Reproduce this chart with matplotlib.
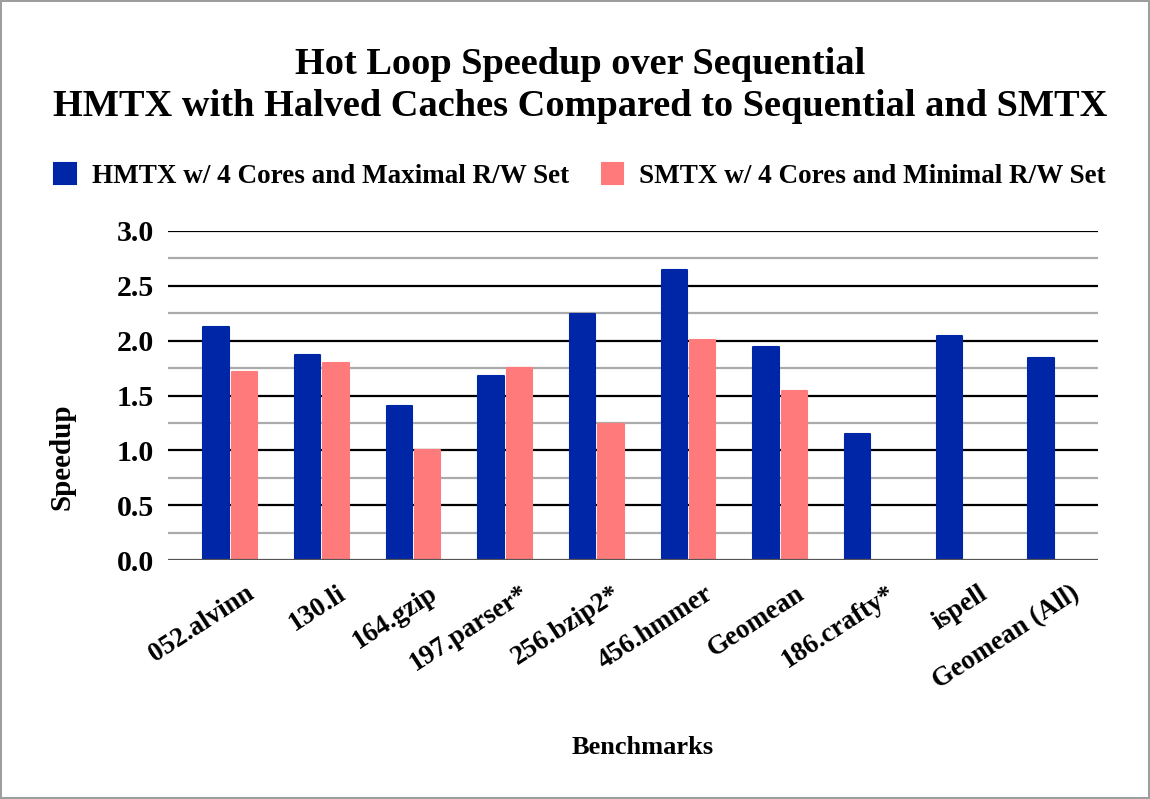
import numpy as np
import matplotlib
matplotlib.use("Agg")
import matplotlib.pyplot as plt
import matplotlib.transforms as mtransforms

benchmarks = ["052.alvinn", "130.li", "164.gzip", "197.parser*", "256.bzip2*",
              "456.hmmer", "Geomean", "186.crafty*", "ispell", "Geomean (All)"]
hmtx = [2.12, 1.87, 1.40, 1.68, 2.24, 2.64, 1.94, 1.15, 2.04, 1.84]
smtx = [1.71, 1.80, 1.00, 1.75, 1.24, 2.01, 1.54, np.nan, np.nan, np.nan]

BLUE = "#0026a8"
PINK = "#ff7b7b"
plt.rcParams["font.family"] = ["Liberation Serif", "DejaVu Serif"]
plt.rcParams["font.weight"] = "bold"

fig = plt.figure(figsize=(11.5, 7.99), dpi=100)
fig.patch.set_edgecolor("#9e9e9e")
fig.patch.set_linewidth(1.5)
ax = fig.add_axes([0.146, 0.299, 0.809, 0.412])

x = np.arange(len(benchmarks))
w = 0.275
# same-colour edge with round joins -> slightly rounded corners like the original
ax.bar(x - 0.155, hmtx, w, color=BLUE, edgecolor=BLUE, lw=1.5, joinstyle="round",
       label="HMTX w/ 4 Cores and Maximal R/W Set", zorder=3)
ax.bar(x + 0.155, smtx, w, color=PINK, edgecolor=PINK, lw=1.5, joinstyle="round",
       label="SMTX w/ 4 Cores and Minimal R/W Set", zorder=3)

# grid: black every 0.5, grey in between
for v in np.arange(0.25, 3.0, 0.5):
    ax.axhline(v, color="#ababab", lw=1.6, zorder=1)
for v in np.arange(0.5, 3.01, 0.5):
    ax.axhline(v, color="black", lw=1.6, zorder=1)
ax.axhline(0, color="#555555", lw=1.6, zorder=4)

ax.set_ylim(0, 3.0)
ax.set_xlim(-0.68, 9.47)
yt = np.arange(0, 3.01, 0.5)
ax.set_yticks(yt)
ax.set_yticklabels([f"{v:.1f}" for v in yt], fontsize=21.5, fontweight="bold")
ax.set_xticks(x)
ax.set_xticklabels(benchmarks, rotation=33, ha="right", va="top", rotation_mode="anchor",
                   fontsize=19.5, fontweight="bold")
ax.tick_params(axis="y", length=0, pad=10)
ax.tick_params(axis="x", length=0, pad=15)
shift = mtransforms.ScaledTranslation(0.15, 0, fig.dpi_scale_trans)
for lab in ax.get_xticklabels():
    lab.set_transform(lab.get_transform() + shift)
for s in ax.spines.values():
    s.set_visible(False)

fig.text(62 / 1150, 1 - 457 / 799, "Speedup", rotation=90, ha="center", va="center",
         fontsize=21, fontweight="bold")
fig.text(643 / 1150, 1 - 748 / 799, "Benchmarks", ha="center", va="center",
         fontsize=19, fontweight="bold")

fig.text(580 / 1150, 1 - 65 / 799, "Hot Loop Speedup over Sequential", ha="center", va="center",
         fontsize=27.6, fontweight="bold")
fig.text(580 / 1150, 1 - 106 / 799, "HMTX with Halved Caches Compared to Sequential and SMTX",
         ha="center", va="center", fontsize=27.6, fontweight="bold")

fig.legend(loc="center", bbox_to_anchor=(580 / 1150, 1 - 176 / 799), ncol=2, frameon=False,
           fontsize=19.5, handlelength=0.8, handleheight=0.8, columnspacing=1.2,
           handletextpad=0.6)

fig.savefig("out.png", dpi=100)
